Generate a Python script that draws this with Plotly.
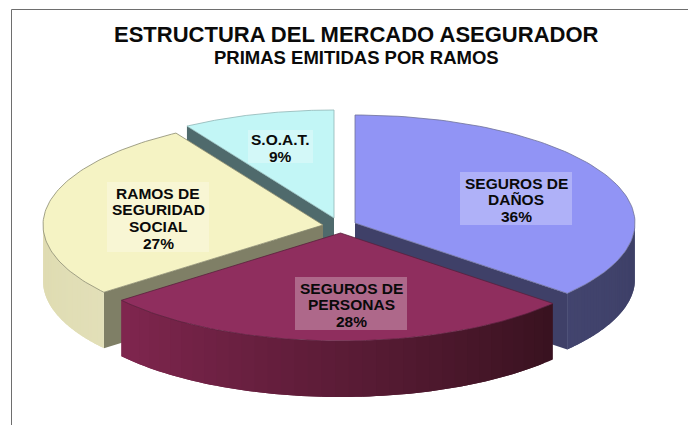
import numpy as np
import plotly.graph_objects as go

# ---- data ----
categories = ["SEGUROS DE<br>DAÑOS", "SEGUROS DE<br>PERSONAS", "RAMOS DE<br>SEGURIDAD<br>SOCIAL", "S.O.A.T."]
shares = [36.3, 28.0, 26.9, 8.8]
percent_labels = ["36%", "28%", "27%", "9%"]
title_text = "ESTRUCTURA DEL MERCADO ASEGURADOR"
subtitle_text = "PRIMAS EMITIDAS POR RAMOS"

# ---- styling ----
top_colors = ["#9194f5", "#8f2e5e", "#f5f3c4", "#c2f6f6"]
edge_colors = ["#6f7198", "#5a1f3c", "#8a8a70", "#8fb5b5"]
wall_left = ["#42446e", "#80264f", "#dedbb0", "#4f6a6c"]
wall_right = ["#3d3f66", "#38121f", "#e2dfb8", "#4f6a6c"]
face_colors = ["#3f4068", "#3f1428", "#7f7f66", "#4f6a6c"]
apexes = [(355, 223), (340.5, 233), (323, 225), (334, 218)]
boxes = [(460, 172, 572, 225), (295, 277, 407, 330), (107, 182, 209, 252), (248, 130, 313, 163)]
RX, RY, DEPTH = 280, 108, 56
LINE_H = 16.6
TEXT_NUDGE = 1.2
draw_order = [3, 2, 0, 1]

edges = np.concatenate([[0], np.cumsum(shares)]) / np.sum(shares) * 2 * np.pi


def pt(i, th):
    cx, cy = apexes[i]
    return cx + RX * np.sin(th), cy - RY * np.cos(th)


def mix(a, b, t):
    ca = [int(a[k:k + 2], 16) for k in (1, 3, 5)]
    cb = [int(b[k:k + 2], 16) for k in (1, 3, 5)]
    return "rgb(%d,%d,%d)" % tuple(round(x + (y - x) * t) for x, y in zip(ca, cb))


fig = go.Figure()


def poly(xs, ys, fill, line=None, width=0.8):
    fig.add_trace(go.Scatter(
        x=list(xs), y=list(ys), mode="lines" if line else "none", fill="toself", fillcolor=fill,
        line=dict(color=line, width=width) if line else None,
        hoverinfo="skip", showlegend=False))


for i in draw_order:
    t0, t1 = edges[i], edges[i + 1]
    cx, cy = apexes[i]
    # radial face facing the viewer
    if i in (0, 2, 3):
        ex, ey = pt(i, t1 if i == 0 else t0)
        poly([cx, ex, ex, cx], [cy, ey, ey + DEPTH, cy + DEPTH], face_colors[i])
    # curved outer wall, only its front half is visible; strips overlap to hide seams
    a, b = max(t0, np.pi / 2), min(t1, 3 * np.pi / 2)
    if b > a:
        n = 36
        grid = np.linspace(a, b, n + 1)
        for k in range(n):
            arc = np.linspace(grid[k], grid[min(k + 2, n)], 5)
            x, y = pt(i, arc)
            c = mix(wall_left[i], wall_right[i], 1 - (k + 0.5) / n)
            poly(np.r_[x, x[::-1]], np.r_[y, y[::-1] + DEPTH], c)
    # top face
    th = np.linspace(t0, t1, 90)
    xs, ys = pt(i, th)
    poly(np.r_[cx, xs, cx], np.r_[cy, ys, cy], top_colors[i], edge_colors[i])

shapes = [
    dict(type="line", x0=11.5, x1=11.5, y0=9.5, y1=425, line=dict(color="#6e6e6e", width=1)),
    dict(type="line", x0=11.5, x1=688, y0=9.5, y1=9.5, line=dict(color="#6e6e6e", width=1)),
]
annotations = [
    dict(x=356.5, y=34, text=f"<b>{title_text}</b>", showarrow=False,
         font=dict(family="Liberation Sans", size=22, color="#0a0a0a")),
    dict(x=356, y=57.5, text=f"<b>{subtitle_text}</b>", showarrow=False,
         font=dict(family="Liberation Sans", size=18.5, color="#0a0a0a")),
]
for i, (x0, y0, x1, y1) in enumerate(boxes):
    shapes.append(dict(type="rect", x0=x0, x1=x1, y0=y0, y1=y1, layer="above",
                       line=dict(width=0), fillcolor="rgba(255,255,255,0.28)"))
    lines = categories[i].split("<br>") + [percent_labels[i]]
    ymid = (y0 + y1) / 2 + TEXT_NUDGE
    for j, txt in enumerate(lines):
        annotations.append(dict(
            x=(x0 + x1) / 2, y=ymid + (j - (len(lines) - 1) / 2) * LINE_H,
            text=f"<b>{txt}</b>", showarrow=False,
            font=dict(family="Liberation Sans", size=15.5, color="#0a0a0a")))

fig.update_layout(
    width=688, height=425, margin=dict(l=0, r=0, t=0, b=0),
    paper_bgcolor="white", plot_bgcolor="white", showlegend=False,
    shapes=shapes, annotations=annotations,
    xaxis=dict(range=[0, 688], visible=False, fixedrange=True),
    yaxis=dict(range=[425, 0], visible=False, fixedrange=True),
)
fig.write_html("out.html", config={"displayModeBar": False},
               post_script="document.body.style.margin='0';document.documentElement.style.overflow='hidden';")
